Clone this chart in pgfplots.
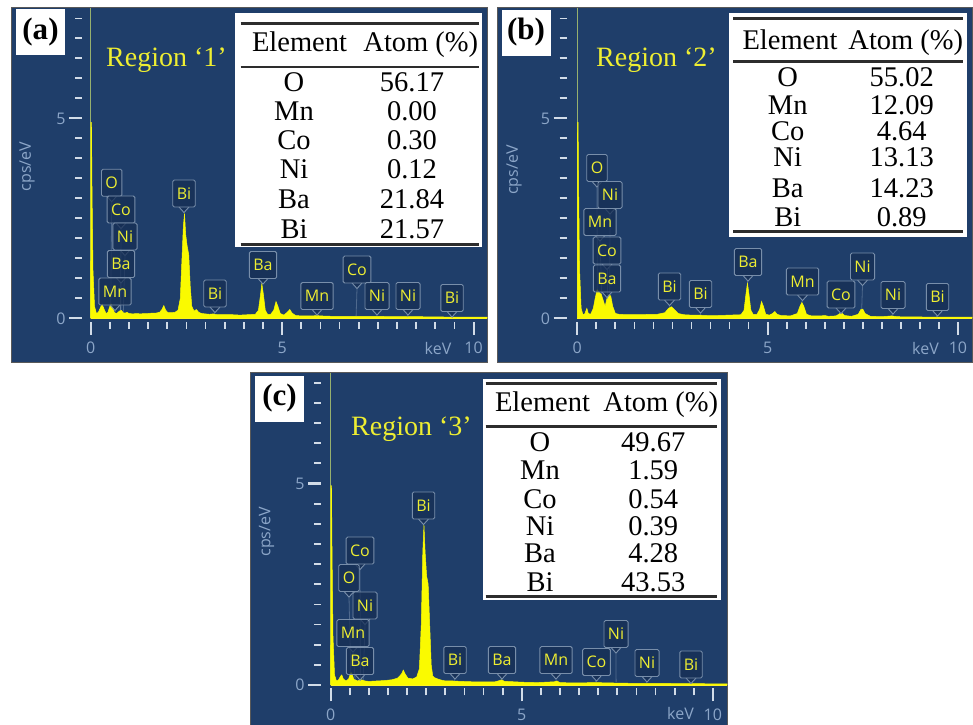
\documentclass[border=0pt]{standalone}
\usepackage{pgfplots}
\pgfplotsset{compat=1.18}
\usepackage{fontspec}
\setmainfont{Liberation Serif}
\newfontfamily\uifont{Open Sans}

\definecolor{bgblue}{RGB}{31,62,106}
\definecolor{boxblue}{RGB}{22,46,84}
\definecolor{boxedge}{RGB}{120,142,170}
\definecolor{specyel}{RGB}{250,250,0}
\definecolor{labyel}{RGB}{238,238,50}
\definecolor{tickcol}{RGB}{210,220,232}
\definecolor{ticklab}{RGB}{140,166,200}
\definecolor{zeroline}{RGB}{150,176,110}
\definecolor{rulecol}{RGB}{45,45,45}

% ---------------- spectra (keV, cps/eV) ----------------
\pgfplotstableread{
x y
0 0
0.005 4.9
0.02 4.9
0.035 3.2
0.06 1.2
0.1 0.3
0.15 0.12
0.2 0.15
0.27 0.3
0.3 0.35
0.34 0.25
0.4 0.12
0.45 0.15
0.5 0.3
0.53 0.36
0.57 0.28
0.62 0.14
0.68 0.12
0.75 0.18
0.8 0.2
0.85 0.14
0.9 0.13
0.95 0.15
1.0 0.12
1.1 0.11
1.2 0.12
1.3 0.11
1.4 0.12
1.5 0.12
1.6 0.13
1.7 0.13
1.8 0.15
1.86 0.22
1.91 0.32
1.96 0.2
2.02 0.14
2.1 0.14
2.2 0.15
2.28 0.2
2.34 0.5
2.38 1.4
2.42 2.3
2.45 2.62
2.48 2.1
2.52 1.8
2.56 1.6
2.6 0.8
2.64 0.3
2.7 0.18
2.76 0.22
2.82 0.15
2.9 0.12
3.0 0.11
3.1 0.1
3.2 0.11
3.3 0.09
3.5 0.09
3.7 0.09
3.9 0.08
4.1 0.09
4.3 0.1
4.38 0.2
4.43 0.55
4.47 0.87
4.51 0.6
4.56 0.2
4.62 0.1
4.7 0.1
4.78 0.2
4.84 0.42
4.89 0.3
4.95 0.12
5.05 0.08
5.13 0.15
5.2 0.22
5.26 0.13
5.35 0.07
5.5 0.06
5.8 0.06
5.9 0.07
6.0 0.06
6.3 0.05
6.6 0.05
6.9 0.05
7.2 0.05
7.5 0.05
7.8 0.04
8.2 0.04
8.6 0.04
9.0 0.035
9.5 0.03
10.0 0.03
10.35 0.03
10.35 0
}\specA

\pgfplotstableread{
x y
0 0
0.005 4.9
0.02 4.9
0.035 3.25
0.06 1.2
0.1 0.25
0.15 0.08
0.2 0.12
0.25 0.25
0.29 0.12
0.35 0.1
0.42 0.25
0.47 0.5
0.52 0.72
0.57 0.65
0.63 0.6
0.68 0.45
0.73 0.3
0.78 0.5
0.83 0.6
0.88 0.55
0.93 0.3
1.0 0.12
1.1 0.1
1.3 0.09
1.5 0.09
1.7 0.09
1.9 0.1
2.1 0.1
2.3 0.14
2.4 0.25
2.47 0.29
2.55 0.22
2.65 0.12
2.8 0.09
3.0 0.08
3.2 0.08
3.4 0.07
3.7 0.07
4.0 0.08
4.3 0.09
4.38 0.2
4.43 0.6
4.47 0.88
4.51 0.6
4.56 0.2
4.62 0.1
4.72 0.1
4.79 0.22
4.84 0.42
4.89 0.3
4.95 0.1
5.05 0.08
5.13 0.12
5.19 0.17
5.25 0.1
5.35 0.07
5.6 0.06
5.78 0.12
5.85 0.3
5.9 0.4
5.95 0.3
6.02 0.1
6.15 0.06
6.4 0.06
6.5 0.07
6.6 0.05
6.8 0.06
6.9 0.12
6.95 0.13
7.02 0.07
7.2 0.05
7.38 0.1
7.45 0.22
7.5 0.23
7.56 0.12
7.7 0.05
8.0 0.04
8.26 0.06
8.4 0.04
8.8 0.035
9.4 0.03
10.0 0.03
10.37 0.03
10.37 0
}\specB

\pgfplotstableread{
x y
0 0
0.005 4.95
0.02 4.95
0.035 3.3
0.06 1.2
0.1 0.25
0.15 0.1
0.2 0.12
0.26 0.22
0.29 0.25
0.33 0.15
0.4 0.1
0.47 0.15
0.52 0.3
0.55 0.3
0.6 0.15
0.7 0.1
0.8 0.13
0.9 0.1
1.0 0.09
1.2 0.1
1.4 0.11
1.6 0.13
1.75 0.17
1.85 0.27
1.9 0.37
1.95 0.27
2.02 0.17
2.15 0.15
2.25 0.2
2.32 0.4
2.37 1.5
2.41 3.3
2.44 3.97
2.47 3.3
2.51 2.7
2.55 2.5
2.59 1.5
2.63 0.5
2.67 0.22
2.72 0.18
2.8 0.15
2.9 0.12
3.0 0.1
3.2 0.1
3.4 0.09
3.7 0.08
4.0 0.08
4.3 0.08
4.42 0.11
4.47 0.13
4.55 0.09
4.8 0.08
5.0 0.07
5.4 0.06
5.85 0.08
5.92 0.1
6.0 0.06
6.4 0.05
6.9 0.06
7.4 0.05
8.0 0.04
8.6 0.04
9.2 0.035
10.0 0.03
10.37 0.03
10.37 0
}\specC

\pgfplotsset{
  edsaxis/.style={
    scale only axis,
    anchor=south west,
    axis x line*=bottom, axis y line*=left,
    axis line style={draw=none},
    tick align=outside,
    clip=false,
    xtick={0,5,10},
    minor xtick={0.5,1,1.5,2,2.5,3,3.5,4,4.5,5.5,6,6.5,7,7.5,8,8.5,9,9.5},
    ytick={0,5},
    minor ytick={0.5,1,1.5,2,2.5,3,3.5,4,4.5,5.5,6,6.5,7,7.5},
    major tick length=13pt,
    minor tick length=7pt,
    every major tick/.style={tickcol, line width=2.2pt},
    every minor tick/.style={tickcol, line width=1.8pt},
    tick label style={font=\uifont\fontsize{16}{16}\selectfont, text=ticklab},
    xticklabel style={yshift=-4pt},
    /pgf/number format/assume math mode=true,
  },
}

\newcommand{\pk}[5]{%
  \draw[boxedge, opacity=0.55, line width=0.8pt] (#1,{#2+19}) -- (#4,#5);
  \draw[boxedge, fill=boxblue, fill opacity=0.75, line width=0.9pt] ({#1-5},{#2+13.5}) -- (#1,{#2+19}) -- ({#1+5},{#2+13.5});
  \node[draw=boxedge, fill=boxblue, fill opacity=0.75, text opacity=1, line width=0.9pt,
        rounded corners=1.5pt, minimum height=27pt, inner ysep=0pt, inner xsep=4pt,
        text=labyel, font=\uifont\fontsize{16}{16}\selectfont] at (#1,#2) {#3};
}

\begin{document}
\begin{tikzpicture}
\useasboundingbox (0,0) rectangle (973pt,-724pt);

% ---------- frames ----------
\begin{scope}[x=1pt,y=-1pt]
\fill[white] (0,0) rectangle (973,724);
\filldraw[fill=bgblue, draw=black!65, line width=1pt] (11,7) rectangle (487,362);
\filldraw[fill=bgblue, draw=black!65, line width=1pt] (497,7) rectangle (972,362);
\filldraw[fill=bgblue, draw=black!65, line width=1pt] (250,372) rectangle (727,726);
\end{scope}

% ---------- panel (a) ----------
\begin{axis}[edsaxis, at={(82pt,-321.7pt)}, width=405pt, height=313.7pt,
  xmin=-0.227, xmax=10.35, ymin=-0.085, ymax=7.76]
\addplot[zeroline, line width=1.2pt] coordinates {(0,0) (0,7.76)};
\addplot[yellow!85!white, line width=0.9pt] coordinates {(0,0) (10.35,0)};
\addplot[draw=specyel, fill=specyel, line width=0.5pt] table[x=x,y=y] {\specA};
\end{axis}

% ---------- panel (b) ----------
\begin{axis}[edsaxis, at={(566.5pt,-321.7pt)}, width=405.5pt, height=313.7pt,
  xmin=-0.284, xmax=10.37, ymin=-0.085, ymax=7.76]
\addplot[zeroline, line width=1.2pt] coordinates {(0,0) (0,7.76)};
\addplot[yellow!85!white, line width=0.9pt] coordinates {(0,0) (10.37,0)};
\addplot[draw=specyel, fill=specyel, line width=0.5pt] table[x=x,y=y] {\specB};
\end{axis}

% ---------- panel (c) ----------
\begin{axis}[edsaxis, at={(321pt,-688.3pt)}, width=406pt, height=315.8pt,
  xmin=-0.254, xmax=10.37, ymin=-0.082, ymax=7.754]
\addplot[zeroline, line width=1.2pt] coordinates {(0,0) (0,7.754)};
\addplot[yellow!85!white, line width=0.9pt] coordinates {(0,0) (10.37,0)};
\addplot[draw=specyel, fill=specyel, line width=0.5pt] table[x=x,y=y] {\specC};
\end{axis}

% ---------- annotations ----------
\begin{scope}[x=1pt,y=-1pt]
\tikzset{
  axl/.style={font=\uifont\fontsize{16}{16}\selectfont, text=ticklab},
  reg/.style={font=\fontsize{28}{28}\selectfont, text=labyel, anchor=base west, inner sep=0pt},
  tb/.style={font=\fontsize{28.5}{28.5}\selectfont, anchor=base, inner sep=0pt},
  plab/.style={fill=white, minimum width=49pt, minimum height=46pt, inner sep=0pt,
     font=\bfseries\fontsize{31}{31}\selectfont},
}
% axis titles
\node[axl, rotate=90] at (27,166.7) {cps/eV};
\node[axl, rotate=90] at (514,170) {cps/eV};
\node[axl, rotate=90] at (266.7,531.7) {cps/eV};
\node[axl] at (438,348) {keV};
\node[axl] at (925.5,348) {keV};
\node[axl] at (680.5,713.3) {keV};

% panel letters
\node[plab] at (40.5,32) {(a)};
\node[plab] at (526,32.5) {(b)};
\node[plab] at (279.5,398.5) {(c)};

% region labels
\node[reg] at (106,66) {Region ‘1’};
\node[reg] at (596,66.5) {Region ‘2’};
\node[reg] at (351,435.7) {Region ‘3’};

% ---- table (a)
\fill[white] (235,13.3) rectangle (481.7,246.7);
\draw[rulecol, line width=3pt] (240.7,23.3) -- (479.3,23.3);
\draw[rulecol, line width=2.5pt] (240.7,67) -- (479.3,67);
\draw[rulecol, line width=3pt] (240.7,244) -- (479.3,244);
\node[tb] at (299.5,51.7) {Element};
\node[tb] at (420.8,51.7) {Atom (\%)};
\node[tb] at (294,91.7) {O};      \node[tb] at (412,91.7) {56.17};
\node[tb] at (294,120.5) {Mn};    \node[tb] at (412,120.5) {0.00};
\node[tb] at (294,149.5) {Co};    \node[tb] at (412,149.5) {0.30};
\node[tb] at (294,178.5) {Ni};    \node[tb] at (412,178.5) {0.12};
\node[tb] at (294,208.5) {Ba};    \node[tb] at (412,208.5) {21.84};
\node[tb] at (294,238) {Bi};      \node[tb] at (412,238) {21.57};

% ---- table (b)
\fill[white] (729.3,13.3) rectangle (966.7,237.3);
\draw[rulecol, line width=3pt] (733,18.7) -- (963,18.7);
\draw[rulecol, line width=2.5pt] (733,61.3) -- (963,61.3);
\draw[rulecol, line width=3pt] (733,231) -- (963,231);
\node[tb] at (790,49.3) {Element};
\node[tb] at (905.8,49.3) {Atom (\%)};
\node[tb] at (787.7,86) {O};      \node[tb] at (901.7,86) {55.02};
\node[tb] at (787.7,114) {Mn};    \node[tb] at (901.7,114) {12.09};
\node[tb] at (787.7,140) {Co};    \node[tb] at (901.7,140) {4.64};
\node[tb] at (787.7,166.7) {Ni};  \node[tb] at (901.7,166.7) {13.13};
\node[tb] at (787.7,197.3) {Ba};  \node[tb] at (901.7,197.3) {14.23};
\node[tb] at (787.7,226) {Bi};    \node[tb] at (901.7,226) {0.89};

% ---- table (c)
\fill[white] (482.7,379) rectangle (720.7,600.3);
\draw[rulecol, line width=3pt] (485.7,383) -- (716.7,383);
\draw[rulecol, line width=2.5pt] (485.7,426.3) -- (716.7,426.3);
\draw[rulecol, line width=3pt] (485.7,596.7) -- (716.7,596.7);
\node[tb] at (542.5,411) {Element};
\node[tb] at (660.8,411) {Atom (\%)};
\node[tb] at (540,451) {O};       \node[tb] at (653.3,451) {49.67};
\node[tb] at (540,479) {Mn};      \node[tb] at (653.3,479) {1.59};
\node[tb] at (540,508.3) {Co};    \node[tb] at (653.3,508.3) {0.54};
\node[tb] at (540,535) {Ni};      \node[tb] at (653.3,535) {0.39};
\node[tb] at (540,562.3) {Ba};    \node[tb] at (653.3,562.3) {4.28};
\node[tb] at (540,591.7) {Bi};    \node[tb] at (653.3,591.7) {43.53};

% ---- peak labels (a)
\pk{111.7}{182.7}{O}{110.8}{304}
\pk{121}{209.5}{Co}{120.6}{310}
\pk{125}{236.5}{Ni}{123.3}{312}
\pk{121}{264}{Ba}{120.6}{310}
\pk{115}{291.5}{Mn}{115.2}{312}
\pk{184}{193.5}{Bi}{183.4}{213}
\pk{215}{293.5}{Bi}{214.4}{314}
\pk{263}{265}{Ba}{261.9}{283.5}
\pk{317}{296}{Mn}{316.7}{316}
\pk{357}{269.5}{Co}{356.1}{316}
\pk{377}{296}{Ni}{376.8}{316}
\pk{408}{296}{Ni}{407.1}{317}
\pk{452}{298}{Bi}{451.5}{317}

% ---- peak labels (b)
\pk{597}{168}{O}{597.3}{289.5}
\pk{610}{195}{Ni}{609.7}{294}
\pk{600}{222}{Mn}{601.7}{294}
\pk{607}{250.5}{Co}{607}{298}
\pk{607}{278.5}{Ba}{607}{298}
\pk{669.5}{286.5}{Bi}{669.4}{306.7}
\pk{700.5}{294}{Bi}{700.3}{315}
\pk{748}{262}{Ba}{747.5}{283}
\pk{802.5}{281.5}{Mn}{801.9}{302}
\pk{841}{294.5}{Co}{841.1}{313}
\pk{862.5}{266.5}{Ni}{861.7}{309}
\pk{893}{295}{Ni}{891.8}{316}
\pk{937.5}{297}{Bi}{936}{317}

% ---- peak labels (c)
\pk{423.5}{505.5}{Bi}{423.1}{525}
\pk{360}{550.5}{Co}{360.5}{680}
\pk{349}{578}{O}{350.8}{673}
\pk{365}{605.5}{Ni}{363.2}{680}
\pk{353}{633}{Mn}{355.1}{680}
\pk{360}{661}{Ba}{360.5}{680}
\pk{455}{660}{Bi}{454.1}{681}
\pk{502}{660}{Ba}{501.5}{680}
\pk{556}{660}{Mn}{556.1}{681}
\pk{596.5}{662}{Co}{595.4}{682}
\pk{616}{634}{Ni}{616.1}{682}
\pk{647}{663}{Ni}{646.2}{683}
\pk{691}{664.5}{Bi}{690.5}{683}
\end{scope}
\end{tikzpicture}
\end{document}
